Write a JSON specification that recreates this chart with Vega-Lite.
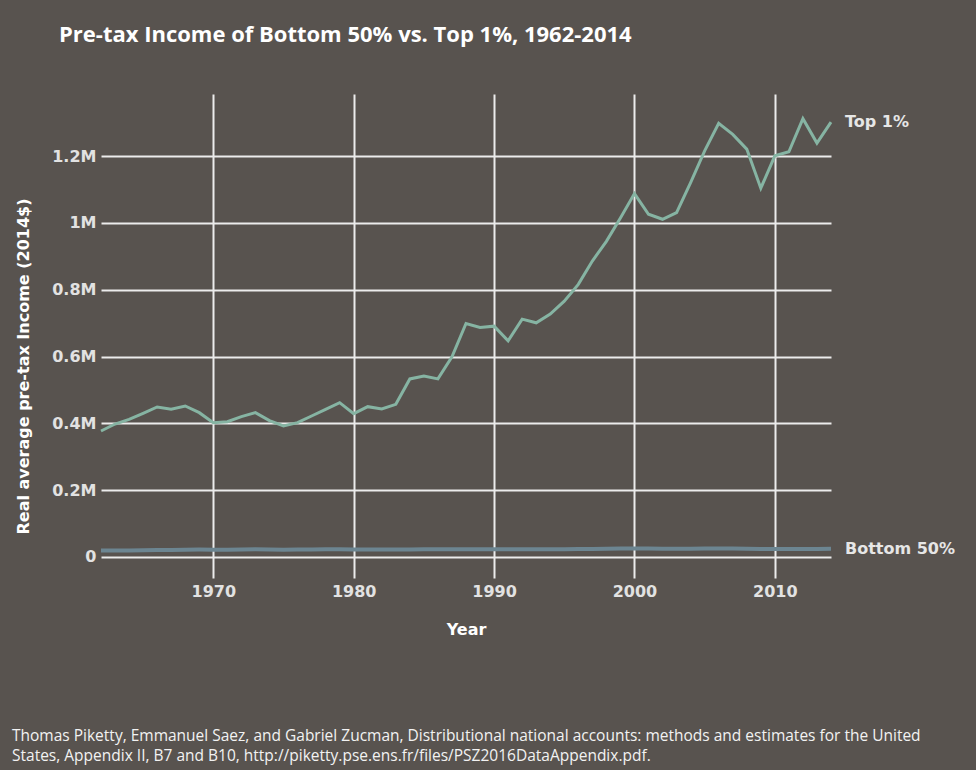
{
  "$schema": "https://vega.github.io/schema/vega-lite/v6.json",
  "background": "#58534f",
  "padding": {"left": 12, "top": 24, "right": 20, "bottom": 6},
  "config": {"view": {"stroke": null}},
  "title": {
    "text": ["Thomas Piketty, Emmanuel Saez, and Gabriel Zucman, Distributional national accounts: methods and estimates for the United", "States, Appendix II, B7 and B10, http://piketty.pse.ens.fr/files/PSZ2016DataAppendix.pdf."],
    "orient": "bottom",
    "anchor": "start",
    "frame": "bounds",
    "font": "Open Sans",
    "fontSize": 15.5,
    "fontWeight": "normal",
    "color": "#f2f2f2",
    "lineHeight": 20,
    "offset": 92,
    "dx": -3
  },
  "datasets": {
    "income": [
      {"year": 1962, "Top 1%": 377000, "Bottom 50%": 19000},
      {"year": 1963, "Top 1%": 398000, "Bottom 50%": 19300},
      {"year": 1964, "Top 1%": 412000, "Bottom 50%": 19700},
      {"year": 1965, "Top 1%": 430000, "Bottom 50%": 20200},
      {"year": 1966, "Top 1%": 449000, "Bottom 50%": 20800},
      {"year": 1967, "Top 1%": 442000, "Bottom 50%": 21000},
      {"year": 1968, "Top 1%": 452000, "Bottom 50%": 21500},
      {"year": 1969, "Top 1%": 432000, "Bottom 50%": 22000},
      {"year": 1970, "Top 1%": 402000, "Bottom 50%": 21800},
      {"year": 1971, "Top 1%": 405000, "Bottom 50%": 21900},
      {"year": 1972, "Top 1%": 420000, "Bottom 50%": 22400},
      {"year": 1973, "Top 1%": 432000, "Bottom 50%": 22900},
      {"year": 1974, "Top 1%": 408000, "Bottom 50%": 22500},
      {"year": 1975, "Top 1%": 392000, "Bottom 50%": 21900},
      {"year": 1976, "Top 1%": 402000, "Bottom 50%": 22100},
      {"year": 1977, "Top 1%": 422000, "Bottom 50%": 22300},
      {"year": 1978, "Top 1%": 442000, "Bottom 50%": 22800},
      {"year": 1979, "Top 1%": 462000, "Bottom 50%": 23000},
      {"year": 1980, "Top 1%": 429000, "Bottom 50%": 22600},
      {"year": 1981, "Top 1%": 450000, "Bottom 50%": 22400},
      {"year": 1982, "Top 1%": 443000, "Bottom 50%": 22000},
      {"year": 1983, "Top 1%": 457000, "Bottom 50%": 22000},
      {"year": 1984, "Top 1%": 533000, "Bottom 50%": 22500},
      {"year": 1985, "Top 1%": 542000, "Bottom 50%": 22700},
      {"year": 1986, "Top 1%": 533000, "Bottom 50%": 22900},
      {"year": 1987, "Top 1%": 599000, "Bottom 50%": 23000},
      {"year": 1988, "Top 1%": 699000, "Bottom 50%": 23200},
      {"year": 1989, "Top 1%": 687000, "Bottom 50%": 23400},
      {"year": 1990, "Top 1%": 691000, "Bottom 50%": 23300},
      {"year": 1991, "Top 1%": 647000, "Bottom 50%": 22900},
      {"year": 1992, "Top 1%": 712000, "Bottom 50%": 22800},
      {"year": 1993, "Top 1%": 701000, "Bottom 50%": 22800},
      {"year": 1994, "Top 1%": 727000, "Bottom 50%": 23000},
      {"year": 1995, "Top 1%": 766000, "Bottom 50%": 23300},
      {"year": 1996, "Top 1%": 816000, "Bottom 50%": 23600},
      {"year": 1997, "Top 1%": 886000, "Bottom 50%": 24100},
      {"year": 1998, "Top 1%": 945000, "Bottom 50%": 24700},
      {"year": 1999, "Top 1%": 1015000, "Bottom 50%": 25100},
      {"year": 2000, "Top 1%": 1088000, "Bottom 50%": 25300},
      {"year": 2001, "Top 1%": 1026000, "Bottom 50%": 25100},
      {"year": 2002, "Top 1%": 1011000, "Bottom 50%": 24700},
      {"year": 2003, "Top 1%": 1031000, "Bottom 50%": 24600},
      {"year": 2004, "Top 1%": 1121000, "Bottom 50%": 24800},
      {"year": 2005, "Top 1%": 1216000, "Bottom 50%": 25000},
      {"year": 2006, "Top 1%": 1298000, "Bottom 50%": 25300},
      {"year": 2007, "Top 1%": 1265000, "Bottom 50%": 25200},
      {"year": 2008, "Top 1%": 1221000, "Bottom 50%": 24600},
      {"year": 2009, "Top 1%": 1104000, "Bottom 50%": 24000},
      {"year": 2010, "Top 1%": 1201000, "Bottom 50%": 23800},
      {"year": 2011, "Top 1%": 1213000, "Bottom 50%": 23700},
      {"year": 2012, "Top 1%": 1312000, "Bottom 50%": 23900},
      {"year": 2013, "Top 1%": 1239000, "Bottom 50%": 24000},
      {"year": 2014, "Top 1%": 1302000, "Bottom 50%": 24200}
    ]
  },
  "vconcat": [
    {
      "width": 730,
      "height": 484,
      "title": {
        "text": "Pre-tax Income of Bottom 50% vs. Top 1%, 1962-2014",
        "anchor": "start",
        "frame": "group",
        "font": "Open Sans",
        "fontSize": 22,
        "fontWeight": "bold",
        "color": "#ffffff",
        "offset": 47,
        "dx": -42
      },
      "data": {"name": "income"},
      "transform": [
        {"fold": ["Top 1%", "Bottom 50%"], "as": ["group", "income"]}
      ],
      "encoding": {
        "x": {
          "field": "year",
          "type": "quantitative",
          "scale": {"domain": [1962, 2014], "nice": false, "zero": false},
          "axis": {
            "title": "Year",
            "values": [1970, 1980, 1990, 2000, 2010],
            "format": "d",
            "domain": false,
            "ticks": false,
            "grid": true,
            "gridColor": "#ececec",
            "gridWidth": 2,
            "gridOpacity": 1,
            "labelFont": "DejaVu Sans",
            "labelFontSize": 16,
            "labelFontWeight": "bold",
            "labelColor": "#e2e2e2",
            "labelPadding": 5,
            "titleFont": "DejaVu Sans",
            "titleFontSize": 16,
            "titleFontWeight": "bold",
            "titleColor": "#ffffff",
            "titlePadding": 22
          }
        },
        "y": {
          "field": "income",
          "type": "quantitative",
          "scale": {"domain": [-63000, 1386000], "nice": false, "zero": false},
          "axis": {
            "title": "Real average pre-tax Income (2014$)",
            "values": [0, 200000, 400000, 600000, 800000, 1000000, 1200000],
            "labelExpr": "datum.value == 0 ? '0' : format(datum.value / 1000000, '.1~f') + 'M'",
            "domain": false,
            "ticks": false,
            "grid": true,
            "gridColor": "#ececec",
            "gridWidth": 2,
            "gridOpacity": 1,
            "labelFont": "DejaVu Sans",
            "labelFontSize": 16,
            "labelFontWeight": "bold",
            "labelColor": "#e2e2e2",
            "labelPadding": 5,
            "titleFont": "DejaVu Sans",
            "titleFontSize": 16,
            "titleFontWeight": "bold",
            "titleColor": "#ffffff",
            "titleBaseline": "middle",
            "titleX": -78,
            "titleY": 272
          }
        },
        "color": {
          "field": "group",
          "type": "nominal",
          "scale": {"domain": ["Top 1%", "Bottom 50%"], "range": ["#86b4a3", "#6c8591"]},
          "legend": null
        }
      },
      "layer": [
        {
          "transform": [{"filter": "datum.group == 'Bottom 50%'"}],
          "mark": {"type": "line", "strokeWidth": 4}
        },
        {
          "transform": [{"filter": "datum.group == 'Top 1%'"}],
          "mark": {"type": "line", "strokeWidth": 3}
        },
        {
          "transform": [{"filter": "datum.year == 2014"}],
          "mark": {"type": "text", "align": "left", "baseline": "middle", "dx": 14, "font": "DejaVu Sans", "fontSize": 16, "fontWeight": "bold"},
          "encoding": {
            "text": {"field": "group"},
            "color": {"value": "#e6e6e6"}
          }
        }
      ]
    }
  ]
}
